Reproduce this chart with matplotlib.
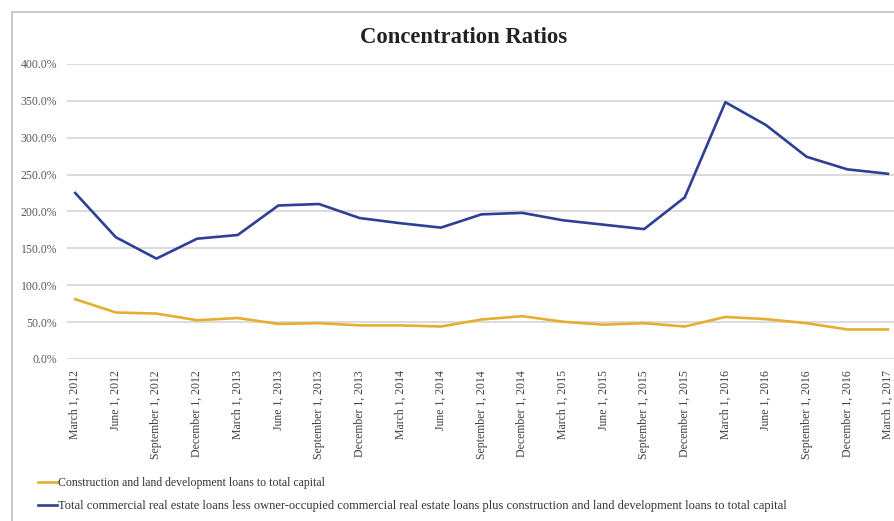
import matplotlib.pyplot as plt
import matplotlib.patches as patches
from matplotlib.ticker import FuncFormatter

plt.rcParams['font.family'] = ['Liberation Serif', 'DejaVu Serif']

# Fechas trimestrales
dates = ["March 1, 2012", "June 1, 2012", "September 1, 2012", "December 1, 2012",
         "March 1, 2013", "June 1, 2013", "September 1, 2013", "December 1, 2013",
         "March 1, 2014", "June 1, 2014", "September 1, 2014", "December 1, 2014",
         "March 1, 2015", "June 1, 2015", "September 1, 2015", "December 1, 2015",
         "March 1, 2016", "June 1, 2016", "September 1, 2016", "December 1, 2016",
         "March 1, 2017"]

# Ratios en porcentaje
construction = [81, 63, 61.5, 52.5, 55.5, 47.5, 48.5, 45.5, 45.5, 44,
                53.5, 58, 50.5, 46.5, 48.5, 44, 57, 54, 48.5, 40, 40]
total_cre = [225, 165, 136, 163, 168, 208, 210, 191, 184, 178,
             196, 198, 188, 182, 176, 219, 348, 317, 274, 257, 251]

label_c = "Construction and land development loans to total capital"
label_t = ("Total commercial real estate loans less owner-occupied commercial real estate "
           "loans plus construction and land development loans to total capital")

fig = plt.figure(figsize=(8.95, 5.21), dpi=100)
ax = fig.add_axes([0.0749, 0.311, 0.924, 0.5665])

x = range(len(dates))
l1, = ax.plot(x, construction, color='#E6AE2E', linewidth=1.9, label=label_c)
l2, = ax.plot(x, total_cre, color='#2F3F94', linewidth=1.9, label=label_t)

ax.set_ylim(0, 400)
ax.set_yticks(range(0, 401, 50))
ax.yaxis.set_major_formatter(FuncFormatter(lambda v, p: "{:.1f}%".format(v)))
ax.set_xlim(-0.2, 20.15)
ax.set_xticks(list(x))
ax.set_xticklabels(dates, rotation=90, va='top', ha='center')
ax.grid(axis='y', color='#d9d9d9', linewidth=1.3)
ax.set_axisbelow(True)
for s in ax.spines.values():
    s.set_visible(False)
ax.tick_params(length=0, labelsize=8.5, colors='#595959')
ax.tick_params(axis='y', pad=7)
ax.tick_params(axis='x', pad=8, labelcolor='#404040')

fig.text(0.518, 0.928, "Concentration Ratios", ha='center', va='center',
         fontsize=16.3, fontweight='bold', color='#222222')

leg = fig.legend(handles=[l1, l2], loc='upper left', bbox_to_anchor=(0.037, 0.094),
                 frameon=False, fontsize=8.5, handlelength=1.6, handletextpad=0.15,
                 labelspacing=0.95, borderaxespad=0, labelcolor='#333333')
leg.get_texts()[1].set_fontsize(9.0)

# Marco gris
fig.patches.append(patches.Rectangle((12 / 895, -0.1), 1.2, 1 - 12 / 521 + 0.1,
                                     transform=fig.transFigure, fill=False,
                                     edgecolor='#c0c0c0', linewidth=1.2))

fig.savefig('out.png', dpi=100)
